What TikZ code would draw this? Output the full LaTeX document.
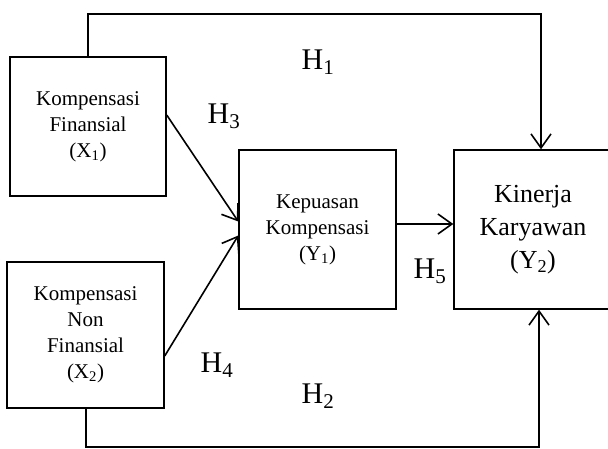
\documentclass[tikz,border=0pt]{standalone}
\usepackage{fontspec}
\setmainfont{Liberation Serif}
\usetikzlibrary{arrows.meta,calc}
\begin{document}
\begin{tikzpicture}[x=1pt,y=-1pt,
  box/.style={draw,line width=1.4pt,inner sep=0pt,align=center,
    font=\fontsize{21}{26}\selectfont},
  conn/.style={line width=1.6pt},
  arr/.style={conn,-{Straight Barb[length=14pt,width=20pt,line width=1.6pt]}},
  hlab/.style={font=\fontsize{30}{30}\selectfont,inner sep=0pt}]
\useasboundingbox (0,0) rectangle (608,449);
\node[box,minimum width=156pt,minimum height=139pt] (X1) at (88,126.5)
  {Kompensasi\\Finansial\\(X\textsubscript{1})};
\node[box,minimum width=157pt,minimum height=146pt] (X2) at (85.5,335)
  {Kompensasi\\Non\\Finansial\\(X\textsubscript{2})};
\node[box,minimum width=157pt,minimum height=159pt] (Y1) at (317.5,229.5)
  {Kepuasan\\Kompensasi\\(Y\textsubscript{1})};
\node[box,minimum width=158pt,minimum height=159pt,
  font=\fontsize{26}{33}\selectfont] (Y2) at (533,229.5)
  {Kinerja\\Karyawan\\(Y\textsubscript{2})};
\coordinate (t1) at (88,14);
\coordinate (t2) at (541,14);
\coordinate (b1) at (86,447);
\coordinate (b2) at (539,447);
\draw[arr] (X1.north) -- (t1) -- (t2) -- (t2 |- Y2.north);
\draw[arr] (X2.south -| b1) -- (b1) -- (b2) -- (b2 |- Y2.south);
\draw[arr] ([yshift=11.5pt]X1.east) -- ([yshift=8pt]Y1.west);
\draw[arr] ([yshift=-21pt]X2.east) -- ([yshift=-6pt]Y1.west);
\draw[arr] ([yshift=5.5pt]Y1.east) -- ([yshift=5.5pt]Y2.west);
\node[hlab] (h1) at (318,62) {H\textsubscript{1}};
\node[hlab] (h3) at (224,116) {H\textsubscript{3}};
\node[hlab] (h4) at (217,365) {H\textsubscript{4}};
\node[hlab] (h5) at (430,271) {H\textsubscript{5}};
\node[hlab] (h2) at (318,396) {H\textsubscript{2}};
\end{tikzpicture}
\end{document}
